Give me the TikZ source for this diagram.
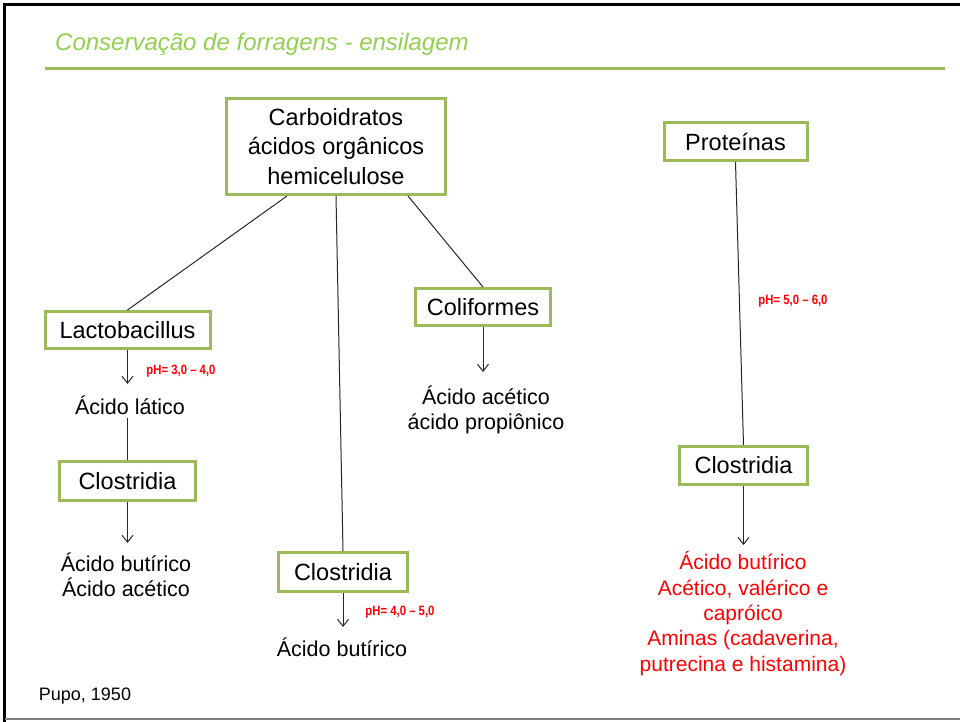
\documentclass[tikz,border=0pt]{standalone}
\usepackage{fontspec}
\setmainfont{Liberation Sans}
\usetikzlibrary{arrows.meta}
\definecolor{boxgreen}{HTML}{9BBB59}
\definecolor{titlegreen}{HTML}{92D050}
\definecolor{pred}{HTML}{FF0000}
\begin{document}
\begin{tikzpicture}[x=1pt,y=-1pt,
  box/.style={draw=boxgreen, line width=3pt, fill=white, inner sep=0pt, align=center,
    font=\fontsize{23.5}{29.5}\selectfont},
  lbl/.style={inner sep=0pt, align=center, font=\fontsize{21.5}{25.5}\selectfont},
  redlbl/.style={inner sep=0pt, align=center, text=pred, font=\fontsize{21}{25.3}\selectfont},
  phlbl/.style={inner sep=0pt, text=pred, font=\fontsize{13.5}{16}\selectfont\bfseries},
  conn/.style={draw=black!85, line width=1pt},
  arr/.style={conn, -{Straight Barb[length=7pt,width=11pt]}}]
\useasboundingbox (0,0) rectangle (960,721);
% frame
\draw[line width=3pt] (4.5,722) -- (4.5,4.5) -- (962,4.5);
\draw[gray, line width=2pt] (4.5,719) -- (962,719);
% title
\node[anchor=base west, inner sep=0pt, text=titlegreen, font=\fontsize{24}{28}\selectfont\itshape] (title) at (55,50.5) {Conservação de forragens - ensilagem};
\coordinate (rl) at (45,68.3);
\coordinate (rr) at (945,68.3);
\draw[boxgreen, line width=3pt] (rl) -- (rr);
% boxes
\node[box, minimum width=219pt, minimum height=96pt] (carbo) at (336,146.5) {Carboidratos\\ácidos orgânicos\\hemicelulose};
\node[box, minimum width=143pt, minimum height=38pt] (prot) at (735.5,141.5) {Proteínas};
\node[box, minimum width=165pt, minimum height=37pt] (lacto) at (127.5,330) {Lactobacillus};
\node[box, minimum width=135pt, minimum height=37pt] (coli) at (483,307) {Coliformes};
\node[box, minimum width=136pt, minimum height=39pt] (clL) at (127.5,481) {Clostridia};
\node[box, minimum width=129pt, minimum height=39pt] (clM) at (343,572) {Clostridia};
\node[box, minimum width=128pt, minimum height=38pt] (clR) at (743.5,465.5) {Clostridia};
% texts
\node[lbl] (lat) at (130,405) {Ácido lático};
\node[lbl] (butL) at (126,575) {Ácido butírico\\Ácido acético};
\node[lbl] (acet) at (486,410) {Ácido acético\\ácido propiônico};
\node[lbl] (butM) at (342,647) {Ácido butírico};
\node[redlbl] (red) at (743,613.5) {Ácido butírico\\Acético, valérico e\\capróico\\Aminas (cadaverina,\\putrecina e histamina)};
\node[inner sep=0pt, font=\fontsize{18}{21}\selectfont] (pupo) at (85,696) {Pupo, 1950};
\node[phlbl] (ph1) at (181,371) {\scalebox{0.84}[1]{pH= 3,0 – 4,0}};
\node[phlbl] (ph2) at (400,612) {\scalebox{0.84}[1]{pH= 4,0 – 5,0}};
\node[phlbl] (ph3) at (793,301) {\scalebox{0.84}[1]{pH= 5,0 – 6,0}};
% arrow ends
\coordinate (e1) at (127.5,384);
\coordinate (e2) at (127.5,543);
\coordinate (e3) at (483,372);
\coordinate (e4) at (343,627);
\coordinate (e5) at (743.5,545);
% connectors
\draw[conn] ([xshift=-49pt]carbo.south) -- (lacto.north);
\draw[conn] (carbo.south) -- (clM.north);
\draw[conn] ([xshift=72pt]carbo.south) -- (coli.north);
\draw[conn] (prot.south) -- (clR.north);
\draw[conn, shorten <=3pt] (lat.south -| clL.north) -- (clL.north);
\draw[arr] (lacto.south) -- (e1);
\draw[arr] (clL.south) -- (e2);
\draw[arr] (coli.south) -- (e3);
\draw[arr] (clM.south) -- (e4);
\draw[arr] (clR.south) -- (e5);
\end{tikzpicture}
\end{document}
